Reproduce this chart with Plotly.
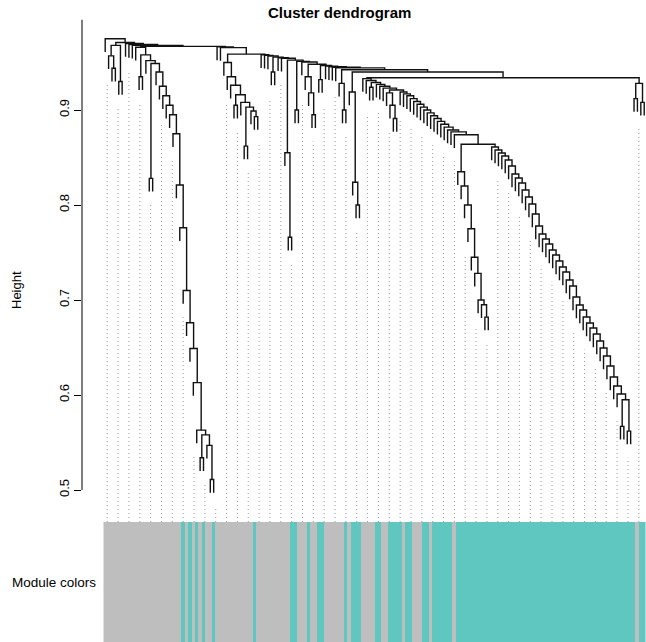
import sys
import plotly.graph_objects as go

sys.setrecursionlimit(10000)

# ---------------- data ----------------
N_LEAVES = 160
# merge height between neighbouring leaves (leaf i and leaf i+1), in dendrogram order
gap_heights = [
    0.975, 0.957, 0.944, 0.968, 0.930, 0.971, 0.970, 0.969, 0.968, 0.966,      # 0-9
    0.935, 0.958, 0.952, 0.828, 0.949, 0.940, 0.925, 0.915, 0.905, 0.895,      # 10-19
    0.875, 0.821, 0.776, 0.710, 0.676, 0.649, 0.613, 0.563, 0.534, 0.558,      # 20-29
    0.547, 0.511, 0.967, 0.9664, 0.9657, 0.950, 0.935, 0.926, 0.905, 0.916,    # 30-39
    0.908, 0.862, 0.903, 0.899, 0.893, 0.9588, 0.9582, 0.9575, 0.9569, 0.940,  # 40-49
    0.9557, 0.955, 0.9544, 0.855, 0.766, 0.9525, 0.900, 0.9512, 0.9506, 0.935, # 50-59
    0.918, 0.895, 0.9481, 0.932, 0.9468, 0.9462, 0.9456, 0.945, 0.9443, 0.928, # 60-69
    0.900, 0.9424, 0.919, 0.824, 0.800, 0.940, 0.933, 0.931, 0.924, 0.929,     # 70-79
    0.927, 0.925, 0.923, 0.918, 0.905, 0.891, 0.921, 0.919, 0.917, 0.915,      # 80-89
    0.912, 0.909, 0.906, 0.903, 0.900, 0.897, 0.894, 0.891, 0.888, 0.885,      # 90-99
    0.882, 0.879, 0.877, 0.874, 0.835, 0.820, 0.800, 0.775, 0.745, 0.728,      # 100-109
    0.700, 0.695, 0.682, 0.864, 0.8611, 0.8579, 0.8547, 0.8516, 0.8474, 0.8411,  # 110-119
    0.8326, 0.8284, 0.8232, 0.8158, 0.8084, 0.8011, 0.7905, 0.7779, 0.7695, 0.7642,  # 120-129
    0.7589, 0.7526, 0.7474, 0.7411, 0.7347, 0.7295, 0.7211, 0.7147, 0.7032, 0.6947,  # 130-139
    0.6895, 0.6821, 0.6758, 0.6705, 0.6642, 0.6568, 0.6495, 0.6411, 0.6305, 0.6189,  # 140-149
    0.6095, 0.6011, 0.567, 0.595, 0.562, 0.934, 0.912, 0.928, 0.908,           # 150-158
]
# leaves (inclusive ranges, dendrogram order) assigned to the turquoise module; the rest are grey
turquoise_ranges = [
    (23, 23), (25, 25), (27, 27), (29, 29), (32, 32), (44, 44), (55, 56), (60, 60),
    (63, 64), (71, 71), (73, 75), (80, 81), (84, 87), (89, 90), (94, 95), (97, 102),
    (104, 156), (158, 159),
]
module_names = ["grey", "turquoise"]
y_tick_values = [0.5, 0.6, 0.7, 0.8, 0.9]
y_tick_labels = ["0.5", "0.6", "0.7", "0.8", "0.9"]
title_text = "Cluster dendrogram"
y_title = "Height"
colors_label = "Module colors"
guide_count = 50

# ---------------- styles ----------------
GREY = "#BEBEBE"
TURQ = "#5FC6C0"
FONT = "Liberation Sans, Arial, Helvetica, sans-serif"
W, H = 646, 642
L_MARGIN = 82
PX_PER_LEAF = 3.39
LEAF_LEFT_PX = 103.5
Y_BOTTOM_PX, Y_TOP_PX = 522, 10
PX_PER_UNIT = 950.0
Y_AT_05_PX = 490

plot_w = W - L_MARGIN
x0 = -0.5 - (LEAF_LEFT_PX - L_MARGIN) / PX_PER_LEAF
x1 = x0 + plot_w / PX_PER_LEAF
ymin = 0.5 - (Y_BOTTOM_PX - Y_AT_05_PX) / PX_PER_UNIT
ymax = ymin + (Y_BOTTOM_PX - Y_TOP_PX) / PX_PER_UNIT
dom0 = (H - Y_BOTTOM_PX) / H
dom1 = (H - Y_TOP_PX) / H

# ---------------- tree from neighbour merge heights ----------------
def build(lo, hi):
    if lo == hi:
        return {"leaf": lo, "x": float(lo)}
    seg = gap_heights[lo:hi]
    k = lo + max(range(len(seg)), key=lambda j: seg[j])
    left = build(lo, k)
    right = build(k + 1, hi)
    return {"h": gap_heights[k], "L": left, "R": right, "x": (left["x"] + right["x"]) / 2}

root = build(0, N_LEAVES - 1)
hang = 0.03 * (max(gap_heights) - min(gap_heights))
leaf_parent = [None] * N_LEAVES
seg_x, seg_y = [], []

def draw(node):
    if "leaf" in node:
        return
    h = node["h"]
    ends = []
    for c in (node["L"], node["R"]):
        if "leaf" in c:
            leaf_parent[c["leaf"]] = h
            ends.append(h - hang)
        else:
            ends.append(c["h"])
    seg_x.extend([node["L"]["x"], node["L"]["x"], node["R"]["x"], node["R"]["x"], None])
    seg_y.extend([ends[0], h, h, ends[1], None])
    draw(node["L"])
    draw(node["R"])

draw(root)

# guide lines (as WGCNA addGuideLines)
guide_hang = 0.052 * (ymax - ymin)
gx, gy = [], []
for k in range(1, guide_count + 1):
    pos = (k - 0.5) * N_LEAVES / guide_count  # 1-based
    f = max(int(pos // 1) - 1, 0)
    c = -int(-pos // 1) - 1
    top = min(leaf_parent[f], leaf_parent[c]) - guide_hang
    top = max(top, ymin)
    gx.extend([pos - 1, pos - 1, None])
    gy.extend([ymin, top, None])

# module colours
leaf_module = [0] * N_LEAVES
for a, b in turquoise_ranges:
    for i in range(a, b + 1):
        leaf_module[i] = 1

fig = go.Figure()
fig.add_trace(go.Scatter(x=gx, y=gy, mode="lines", hoverinfo="skip",
                         line=dict(color="#9a9a9a", width=1, dash="1px,3px"),
                         showlegend=False, xaxis="x", yaxis="y"))
fig.add_trace(go.Scatter(x=seg_x, y=seg_y, mode="lines", hoverinfo="skip",
                         line=dict(color="#111111", width=1.4),
                         showlegend=False, xaxis="x", yaxis="y"))
fig.add_trace(go.Heatmap(x=list(range(N_LEAVES)), y=[0], z=[leaf_module],
                         zmin=0, zmax=1, showscale=False, hoverinfo="skip",
                         colorscale=[[0, GREY], [0.5, GREY], [0.5, TURQ], [1, TURQ]],
                         xaxis="x", yaxis="y2"))

fig.update_layout(
    width=W, height=H,
    margin=dict(l=L_MARGIN, r=0, t=0, b=0),
    paper_bgcolor="white", plot_bgcolor="white",
    font=dict(family=FONT, color="black"),
    xaxis=dict(domain=[0, 1], range=[x0, x1], visible=False, fixedrange=True),
    yaxis=dict(domain=[dom0, dom1], range=[ymin, ymax], anchor="x",
               tickmode="array", tickvals=y_tick_values, ticktext=y_tick_labels,
               ticks="outside", ticklen=7, tickwidth=1, tickcolor="black",
               tickangle=-90, tickfont=dict(size=13, family=FONT),
               showgrid=False, zeroline=False, showline=False),
    yaxis2=dict(domain=[0, dom0], range=[-0.5, 0.5], anchor="x", visible=False),
    shapes=[dict(type="line", xref="paper", yref="y", x0=0, x1=0,
                 y0=0.5, y1=0.995, line=dict(color="black", width=1))],
    annotations=[
        dict(text="<b>%s</b>" % title_text, xref="paper", yref="paper",
             x=(339 - L_MARGIN) / plot_w, y=(H - 13) / H, showarrow=False,
             xanchor="center", yanchor="middle", font=dict(size=15, family=FONT)),
        dict(text=y_title, xref="paper", yref="y", x=(16 - L_MARGIN) / plot_w,
             y=0.5 + (Y_AT_05_PX - 290) / PX_PER_UNIT, textangle=-90, showarrow=False,
             xanchor="center", yanchor="middle", font=dict(size=13, family=FONT)),
        dict(text=colors_label, xref="paper", yref="paper",
             x=(98 - L_MARGIN) / plot_w, y=(H - 582) / H, showarrow=False,
             xanchor="right", yanchor="middle", font=dict(size=13.5, family=FONT)),
    ],
)

fig.write_html("out.html")
